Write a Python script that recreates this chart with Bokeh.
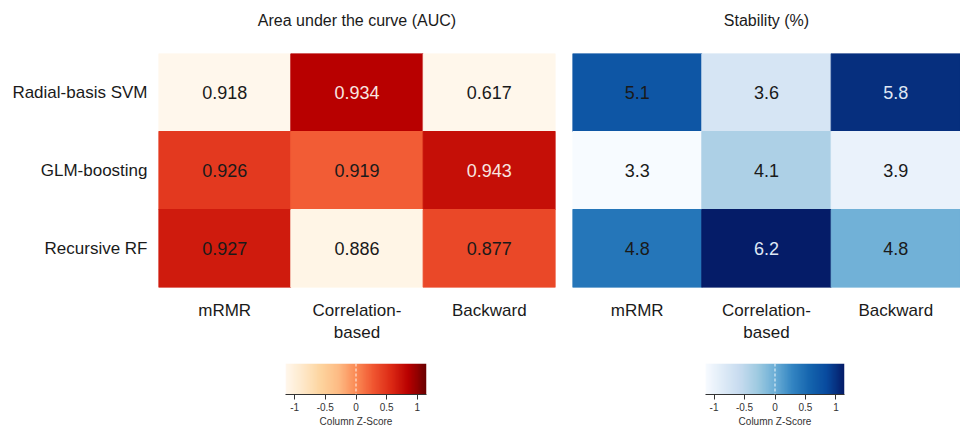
import numpy as np
from bokeh.plotting import figure
from bokeh.models import ColumnDataSource, LinearColorMapper, Range1d, FixedTicker, Span
from bokeh.layouts import column, row
from bokeh.embed import file_html
from bokeh.resources import INLINE
from bokeh.core.properties import value

# ---------------- data ----------------
methods = ["Radial-basis SVM", "GLM-boosting", "Recursive RF"]
selectors = ["mRMR", "Correlation-\nbased", "Backward"]
auc = [[0.918, 0.934, 0.617],
       [0.926, 0.919, 0.943],
       [0.927, 0.886, 0.877]]
stability = [[5.1, 3.6, 5.8],
             [3.3, 4.1, 3.9],
             [4.8, 6.2, 4.8]]
z_ticks = [-1, -0.5, 0, 0.5, 1]
z_tick_labels = ["-1", "-0.5", "0", "0.5", "1"]
title_auc = "Area under the curve (AUC)"
title_stab = "Stability (%)"
key_label = "Column Z-Score"

FONT = value("Liberation Sans")
FONT_NAME = "Liberation Sans"
TXT = "#1a1a1a"

red_stops = ["#fff7ec", "#fee8c8", "#fdd49e", "#fdbb84", "#fb8a55",
             "#f05530", "#dc2a15", "#b80000", "#6a0000"]
blue_stops = ["#f7fbff", "#deebf7", "#c6dbef", "#9ecae1", "#6baed6",
              "#3385c2", "#1565ae", "#084a9e", "#051c68"]


def ramp(stops, n=256):
    rgb = np.array([[int(s[i:i + 2], 16) for i in (1, 3, 5)] for s in stops], float)
    t = np.linspace(0, 1, len(stops))
    tt = np.linspace(0, 1, n)
    out = np.stack([np.interp(tt, t, rgb[:, k]) for k in range(3)], 1)
    return ["#%02x%02x%02x" % tuple(int(round(v)) for v in c) for c in out]


def col_z(vals):
    a = np.array(vals, float)
    return (a - a.mean(0)) / a.std(0, ddof=1)


def heatmap(vals, fmt, stops, title, light, width, bl, br, show_rows):
    z = col_z(vals)
    zmax = float(np.abs(z).max())
    mapper = LinearColorMapper(palette=ramp(stops), low=-zmax, high=zmax)
    xs, ys, zs, labs, tcol = [], [], [], [], []
    for i, m in enumerate(methods):
        for j, s in enumerate(selectors):
            xs.append(s)
            ys.append(m)
            zs.append(float(z[i, j]))
            labs.append(fmt % vals[i][j])
            tcol.append(light if z[i, j] > 0.74 else TXT)
    src = ColumnDataSource(dict(x=xs, y=ys, z=zs, lab=labs, tc=tcol))
    p = figure(x_range=selectors, y_range=list(reversed(methods)),
               width=width, height=345, output_backend="svg", toolbar_location=None,
               min_border_left=bl, min_border_right=br, min_border_top=53,
               min_border_bottom=56, title=title)
    p.rect(x="x", y="y", width=1, height=1, source=src,
           fill_color={"field": "z", "transform": mapper},
           line_color={"field": "z", "transform": mapper}, line_width=1)
    p.text(x="x", y="y", text="lab", source=src, text_color="tc",
           text_align="center", text_baseline="middle",
           text_font=FONT, text_font_size="18px")
    p.title.align = "center"
    p.title.text_font = FONT_NAME
    p.title.text_font_size = "16px"
    p.title.text_font_style = "normal"
    p.title.text_color = TXT
    p.title.standoff = 2
    try:
        p.title.padding = dict(top=0, right=0, bottom=24, left=0)
    except Exception:
        p.title.padding = (0, 0, 24, 0)
    p.outline_line_color = None
    p.grid.visible = False
    p.background_fill_color = "white"
    p.border_fill_color = "white"
    for ax in (p.xaxis[0], p.yaxis[0]):
        ax.axis_line_color = None
        ax.major_tick_line_color = None
        ax.minor_tick_line_color = None
        ax.major_tick_out = 0
        ax.major_tick_in = 0
        ax.major_label_text_font = FONT_NAME
        ax.major_label_text_font_size = "17px"
        ax.major_label_text_color = TXT
    p.xaxis.major_label_standoff = 13
    p.yaxis.major_label_standoff = 11
    p.yaxis.visible = show_rows
    return p, mapper, zmax


def key(mapper, zmax, width, bl, br, bt, fh):
    p = figure(x_range=Range1d(-zmax, zmax), y_range=Range1d(0, 1),
               width=width, height=88, output_backend="svg", toolbar_location=None,
               min_border_left=bl, min_border_right=br, min_border_top=bt,
               min_border_bottom=88 - bt - fh)
    grad = np.linspace(-zmax, zmax, 300)[None, :]
    p.image(image=[grad], x=-zmax, y=0, dw=2 * zmax, dh=1, color_mapper=mapper)
    p.add_layout(Span(location=0, dimension="height", line_color="white",
                      line_dash="3 2", line_width=1, line_alpha=0.9))
    p.outline_line_color = None
    p.grid.visible = False
    p.yaxis.visible = False
    ax = p.xaxis[0]
    ax.ticker = FixedTicker(ticks=z_ticks)
    ax.major_label_overrides = {float(t): l for t, l in zip(z_ticks, z_tick_labels)}
    ax.minor_tick_line_color = None
    ax.major_tick_out = 5
    ax.major_tick_in = 0
    ax.axis_line_color = "#333333"
    ax.major_tick_line_color = "#333333"
    ax.major_label_standoff = 3
    ax.major_label_text_font = FONT_NAME
    ax.major_label_text_font_size = "10px"
    ax.major_label_text_color = "#333333"
    ax.axis_label = key_label
    ax.axis_label_standoff = 2
    ax.axis_label_text_font = FONT_NAME
    ax.axis_label_text_font_size = "10px"
    ax.axis_label_text_font_style = "normal"
    ax.axis_label_text_color = "#333333"
    return p


p1, m1, z1 = heatmap(auc, "%.3f", red_stops, title_auc, "#f8e6e0", 563, 158, 8, True)
p2, m2, z2 = heatmap(stability, "%.1f", blue_stops, title_stab, "#dfe7f4", 397, 9, 0, False)
k1 = key(m1, z1, 563, 285, 137, 15, 34)
k2 = key(m2, z2, 397, 142, 116, 18, 32)

layout = column(row(p1, p2), row(k1, k2))
open("out.html", "w").write(file_html(layout, INLINE))
